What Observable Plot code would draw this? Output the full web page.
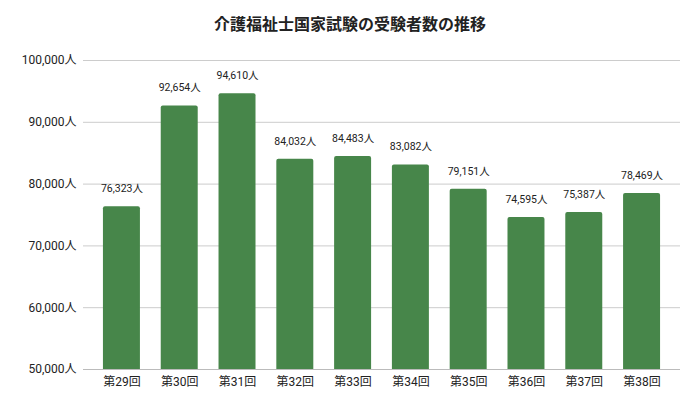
<!DOCTYPE html>
<html>
<head>
<meta charset="utf-8">
<script src="https://cdn.jsdelivr.net/npm/d3@7"></script>
<script src="https://cdn.jsdelivr.net/npm/@observablehq/plot@0.6"></script>
<style>
  body { margin: 0; background: #fff; font-family: Roboto, "Noto Sans CJK JP", sans-serif; }
  #title { height: 44px; line-height: 46px; text-align: center; font-size: 16px; font-weight: bold; color: #222; font-family: "Noto Sans CJK JP", sans-serif; }
</style>
</head>
<body>
<div id="title">介護福祉士国家試験の受験者数の推移</div>
<div id="chart"></div>
<script>
const categories = ["第29回","第30回","第31回","第32回","第33回","第34回","第35回","第36回","第37回","第38回"];
const values = [76323, 92654, 94610, 84032, 84483, 83082, 79151, 74595, 75387, 78469];
const yTicks = [50000, 60000, 70000, 80000, 90000, 100000];

const data = categories.map((c, i) => ({cat: c, value: values[i]}));
const fmt = d3.format(",");

const chart = Plot.plot({
  width: 700,
  height: 367,
  marginTop: 16,
  marginBottom: 42,
  marginLeft: 83,
  marginRight: 20,
  style: {fontFamily: "Roboto, 'Noto Sans CJK JP', sans-serif", color: "#222", background: "#fff"},
  x: {domain: categories, paddingInner: 0.36, paddingOuter: 0.345, round: false, label: null},
  y: {domain: [50000, 100000], label: null},
  marks: [
    Plot.ruleY(yTicks, {stroke: "#ccc", strokeWidth: 1}),
    Plot.barY(data, {x: "cat", y1: 49000, y2: "value", fill: "#47864a", rx: 2, clip: true}),
    Plot.ruleY([50000], {stroke: "#bbb", strokeWidth: 1}),
    Plot.text(data, {x: "cat", y: "value", text: d => fmt(d.value) + "人", dy: -18, fontSize: 10.5, fill: "#222"}),
    Plot.axisY({ticks: yTicks, tickFormat: d => fmt(d) + "人", tickSize: 0, tickPadding: 7, fontSize: 12, label: null}),
    Plot.axisX({tickSize: 0, tickPadding: 8, fontSize: 12, label: null})
  ]
});
document.getElementById("chart").appendChild(chart);
</script>
</body>
</html>
